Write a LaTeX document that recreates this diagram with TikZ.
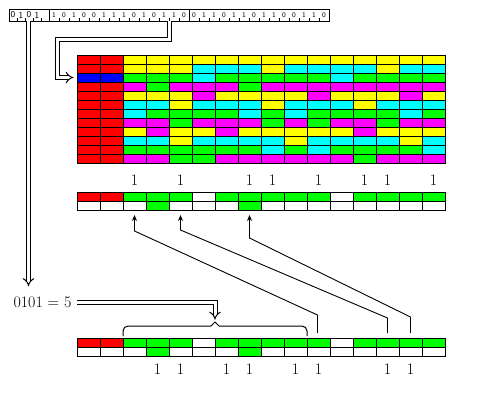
\documentclass[tikz,border=0pt]{standalone}
\usetikzlibrary{arrows.meta}
\definecolor{cR}{RGB}{255,0,0}
\definecolor{cY}{RGB}{255,255,0}
\definecolor{cC}{RGB}{0,255,255}
\definecolor{cG}{RGB}{0,255,0}
\definecolor{cM}{RGB}{255,0,255}
\definecolor{cB}{RGB}{0,0,255}
\definecolor{cW}{RGB}{255,255,255}
\begin{document}
\begin{tikzpicture}[x=1pt,y=-1pt,line width=1pt,
  cellbox/.style={draw=black,line width=1pt},
  dbl/.style={draw=black,double=white,double distance=3pt,line width=1pt,-{Implies[length=6pt]}},
  thin/.style={line width=0.9pt,-{Stealth[length=6pt,width=5pt]}},
  onelabel/.style={font=\fontsize{16}{18}\selectfont,inner sep=0pt},
  bitbig/.style={font=\sffamily\fontsize{9}{10}\selectfont,inner sep=0pt},
  bitsmall/.style={font=\sffamily\fontsize{7}{8}\selectfont,inner sep=0pt}]
\useasboundingbox (0,0) rectangle (480,400);
% ---------------- top bit strip
\draw[cellbox] (9,9) rectangle (49,21);
\draw[cellbox] (49,9) rectangle (189,21);
\draw[cellbox] (189,9) rectangle (329,21);
\foreach \b [count=\i] in {0,1,0,1}
  \node[bitbig] at ({5+8*\i},15) {\b};
\foreach \b [count=\i] in {1,0,1,0,0,1,1,1,0,1,0,1,1,0}
  \node[bitsmall] at ({44+10*\i},15) {\b};
\foreach \b [count=\i] in {0,1,1,0,1,1,0,1,1,0,0,1,1,0}
  \node[bitsmall] at ({184+10*\i},15) {\b};
\foreach \t in {17,25,33,41,59,69,79,89,99,109,119,129,139,149,159,169,179,199,209,219,229,239,249,259,269,279,289,299,309,319}
  \draw[line width=0.8pt] (\t,21) -- (\t,18);
\coordinate (hashA) at (28.5,21);
\coordinate (hashB) at (169.5,21);
% ---------------- grid
\foreach \row [count=\j] in {
 {R,R,Y,Y,Y,Y,Y,Y,Y,Y,Y,Y,Y,Y,Y,Y},
 {R,R,Y,Y,Y,C,C,C,Y,C,C,C,C,Y,C,C},
 {B,B,G,G,G,C,G,G,G,G,G,C,G,G,G,G},
 {R,R,M,G,M,M,M,G,M,M,M,M,M,M,M,M},
 {R,R,Y,Y,Y,M,Y,Y,Y,Y,M,Y,Y,Y,M,Y},
 {R,R,C,C,Y,C,C,C,Y,C,C,C,Y,C,C,C},
 {R,R,C,G,G,G,G,C,G,C,G,G,G,G,C,G},
 {R,R,M,M,G,M,M,M,G,M,G,M,M,G,M,M},
 {R,R,Y,M,Y,Y,M,Y,Y,Y,Y,Y,M,Y,Y,Y},
 {R,R,C,C,Y,C,C,C,C,Y,C,C,C,C,Y,C},
 {R,R,G,G,G,G,G,G,C,G,C,G,G,G,G,C},
 {R,R,M,M,G,G,M,M,M,M,M,M,G,M,M,M}}{
  \foreach \c [count=\i] in \row
    \filldraw[cellbox,fill=c\c] ({54+23*\i},{46+9*\j}) rectangle +(23,9);
}
\coordinate (row3) at (73.5,77.5);
% ---------------- labels above middle strip
\foreach \k in {3,5,8,9,11,13,14,16}
  \node[onelabel] at ({65.5+23*\k},180) {1};
% ---------------- middle strip
\foreach \c [count=\i] in {R,R,G,G,G,W,G,G,G,G,G,W,G,G,G,G}
  \filldraw[cellbox,fill=c\c] ({54+23*\i},192) rectangle +(23,9);
\foreach \c [count=\i] in {W,W,W,G,W,W,W,G,W,W,W,W,W,W,W,W}
  \filldraw[cellbox,fill=c\c] ({54+23*\i},201) rectangle +(23,9);
\coordinate (t1) at (134.5,215);
\coordinate (t2) at (180.5,215);
\coordinate (t3) at (249.5,215);
% ---------------- bottom strip
\foreach \c [count=\i] in {R,R,G,G,G,W,G,G,G,G,G,W,G,G,G,G}
  \filldraw[cellbox,fill=c\c] ({54+23*\i},338) rectangle +(23,9);
\foreach \c [count=\i] in {W,W,W,G,W,W,W,G,W,W,W,W,W,W,W,W}
  \filldraw[cellbox,fill=c\c] ({54+23*\i},347) rectangle +(23,9);
\foreach \k in {4,5,7,8,10,11,14,15}
  \node[onelabel] at ({65.5+23*\k},369) {1};
\coordinate (s1) at (317.5,333);
\coordinate (s2) at (387.5,333);
\coordinate (s3) at (410.5,333);
% ---------------- text
\node[onelabel,anchor=west] (val) at (13,302) {0101 = 5};
\coordinate (braceTip) at (215,319.5);
% ---------------- double arrows
\draw[dbl] (hashA) -- (28.5,286);
\draw[dbl] (hashB) -- (169.5,39.5) -- (57.5,39.5) -- (57.5,77.5) -- (row3);
\draw[dbl] (val.east) ++(5,0) -- (215,302) -- (braceTip);
% ---------------- brace
\draw[line width=1pt,rounded corners=5pt] (123,336) -- (123,326) -- (211,326);
\draw[line width=1pt] (211,326) -- (215,322) -- (219,326);
\draw[line width=1pt,rounded corners=5pt] (219,326) -- (307,326) -- (307,336);
% ---------------- thin connectors
\draw[thin] (s1) -- (317.5,315) -- (134.5,231) -- (t1);
\draw[thin] (s2) -- (387.5,318) -- (180.5,230) -- (t2);
\draw[thin] (s3) -- (410.5,317) -- (249.5,238) -- (t3);
\end{tikzpicture}
\end{document}
